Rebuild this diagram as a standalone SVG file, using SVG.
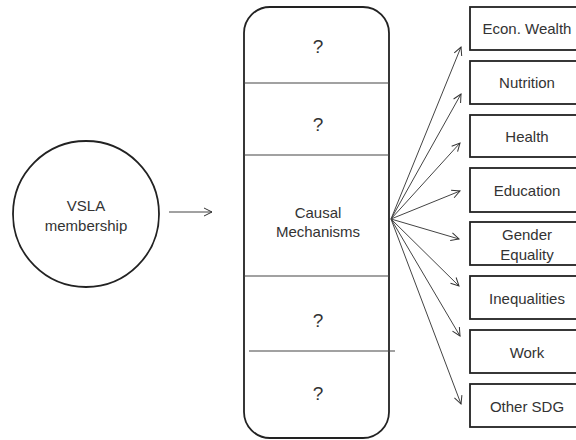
<svg xmlns="http://www.w3.org/2000/svg" width="576" height="440" viewBox="0 0 576 440">
<defs>
<marker id="ah" markerWidth="10" markerHeight="10" refX="9" refY="5" orient="auto" markerUnits="userSpaceOnUse">
<path d="M1,1 L9,5 L1,9" fill="none" stroke="#333" stroke-width="1"/>
</marker>
<style>
text{font-family:"Liberation Sans",Arial,sans-serif;font-size:15px;fill:#333;text-anchor:middle;dominant-baseline:central}
text.q{font-size:19px}
.box{fill:#fff;stroke:#222;stroke-width:1.8}
.div{stroke:#444;stroke-width:1.2}
.con{stroke:#444;stroke-width:1;fill:none;marker-end:url(#ah)}
</style>
</defs>
<rect width="576" height="440" fill="#fff"/>
<g id="vsla">
<circle cx="86" cy="214" r="73" class="box"/>
<text x="86" y="205">VSLA</text>
<text x="86" y="225">membership</text>
</g>
<g id="mechanisms">
<rect x="244" y="7" width="145" height="431" rx="26" ry="26" class="box"/>
<line x1="244" y1="83" x2="389" y2="83" class="div"/>
<line x1="244" y1="155" x2="389" y2="155" class="div"/>
<line x1="244" y1="276" x2="389" y2="276" class="div"/>
<line x1="249" y1="351" x2="395" y2="351" class="div"/>
<text class="q" x="318" y="46">?</text>
<text class="q" x="318" y="124">?</text>
<text x="318" y="212">Causal</text>
<text x="318" y="231">Mechanisms</text>
<text class="q" x="318" y="320">?</text>
<text class="q" x="318" y="393">?</text>
</g>
<g id="b1"><rect x="470" y="7" width="112" height="43" class="box"/><text x="527" y="28">Econ. Wealth</text></g>
<g id="b2"><rect x="470" y="61" width="112" height="43" class="box"/><text x="527" y="82">Nutrition</text></g>
<g id="b3"><rect x="470" y="115" width="112" height="42" class="box"/><text x="527" y="136">Health</text></g>
<g id="b4"><rect x="470" y="168" width="112" height="44" class="box"/><text x="527" y="190">Education</text></g>
<g id="b5"><rect x="470" y="222" width="112" height="43" class="box"/><text x="527" y="234">Gender</text><text x="527" y="254">Equality</text></g>
<g id="b6"><rect x="470" y="276" width="112" height="43" class="box"/><text x="527" y="298">Inequalities</text></g>
<g id="b7"><rect x="470" y="330" width="112" height="43" class="box"/><text x="527" y="352">Work</text></g>
<g id="b8"><rect x="470" y="384" width="112" height="43" class="box"/><text x="527" y="406">Other SDG</text></g>
<g id="connectors">
<line x1="169" y1="212" x2="212" y2="212" class="con"/>
<line x1="391" y1="219" x2="461" y2="47" class="con"/>
<line x1="391" y1="219" x2="461" y2="94" class="con"/>
<line x1="391" y1="219" x2="460" y2="143" class="con"/>
<line x1="391" y1="219" x2="460" y2="191" class="con"/>
<line x1="391" y1="219" x2="459" y2="239" class="con"/>
<line x1="391" y1="219" x2="459" y2="286" class="con"/>
<line x1="391" y1="219" x2="460" y2="336" class="con"/>
<line x1="391" y1="219" x2="461" y2="404" class="con"/>
</g>
</svg>
